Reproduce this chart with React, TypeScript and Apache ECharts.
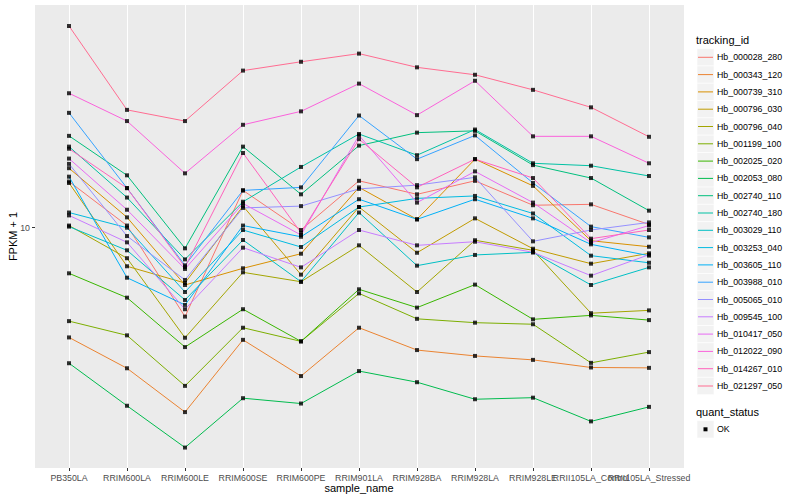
import React, { useEffect, useRef } from "react";
import * as echarts from "echarts";

const categories = [
  "PB350LA", "RRIM600LA", "RRIM600LE", "RRIM600SE", "RRIM600PE", "RRIM901LA",
  "RRIM928BA", "RRIM928LA", "RRIM928LE", "RRII105LA_Control", "RRII105LA_Stressed",
];

const trackingIds = [
  "Hb_000028_280", "Hb_000343_120", "Hb_000739_310", "Hb_000796_030", "Hb_000796_040",
  "Hb_001199_100", "Hb_002025_020", "Hb_002053_080", "Hb_002740_110", "Hb_002740_180",
  "Hb_003029_110", "Hb_003253_040", "Hb_003605_110", "Hb_003988_010", "Hb_005065_010",
  "Hb_009545_100", "Hb_010417_050", "Hb_012022_090", "Hb_014267_010", "Hb_021297_050",
];

const seriesColors = [
  "#F8766D", "#EA8331", "#D89000", "#C09B00", "#A3A500", "#7CAE00", "#39B600", "#00BB4E",
  "#00BF7D", "#00C1A3", "#00BFC4", "#00BAE0", "#00B0F6", "#35A2FF", "#9590FF", "#C77CFF",
  "#E76BF3", "#FA62DB", "#FF62BC", "#FF6C91",
];

// FPKM + 1 values, one per sample, in category order
const hb000028_280 = [15.3, 10.2, 4.41, 14.1, 9.79, 15.4, 13.6, 15.4, 12.3, 12.4, 10.3];
const hb000343_120 = [3.64, 2.74, 1.83, 3.56, 2.55, 3.98, 3.24, 3.07, 2.96, 2.76, 2.75];
const hb000739_310 = [17.3, 11.0, 5.90, 6.88, 7.87, 14.5, 10.8, 18.8, 14.7, 8.87, 8.39];
const hb000796_030 = [15.1, 7.01, 6.01, 12.2, 6.49, 12.1, 7.94, 10.9, 8.24, 7.18, 7.90];
const hb000796_040 = [10.2, 7.55, 3.63, 6.63, 6.08, 8.50, 5.53, 8.91, 8.12, 4.55, 4.67];
const hb001199_100 = [4.23, 3.71, 2.33, 3.98, 3.51, 5.46, 4.32, 4.17, 4.11, 2.88, 3.18];
const hb002025_020 = [6.57, 5.25, 3.33, 4.72, 3.51, 5.67, 4.79, 5.92, 4.30, 4.46, 4.27];
const hb002053_080 = [2.87, 1.94, 1.32, 2.08, 1.98, 2.67, 2.41, 2.06, 2.09, 1.68, 1.92];
const hb002740_110 = [23.3, 16.2, 8.27, 21.1, 13.6, 21.3, 24.0, 24.4, 17.8, 15.8, 11.7];
const hb002740_180 = [21.1, 13.2, 7.47, 12.7, 17.5, 23.7, 19.5, 24.7, 18.1, 17.7, 16.1];
const hb003029_110 = [10.1, 8.12, 5.14, 8.93, 6.08, 11.5, 7.05, 7.78, 7.97, 5.90, 6.94];
const hb003253_040 = [11.5, 10.0, 5.53, 9.79, 8.37, 12.1, 13.1, 13.4, 11.4, 7.73, 7.24];
const hb003605_110 = [16.0, 6.31, 4.91, 10.2, 9.20, 13.0, 10.8, 13.0, 10.9, 8.58, 7.73];
const hb003988_010 = [28.8, 14.4, 7.07, 14.1, 14.5, 28.1, 18.8, 23.4, 15.1, 10.1, 9.15];
const hb005065_010 = [18.0, 9.26, 6.18, 12.0, 12.2, 14.3, 14.8, 15.9, 8.82, 9.79, 10.5];
const hb009545_100 = [11.2, 8.74, 4.72, 8.32, 6.94, 9.79, 8.50, 8.79, 7.97, 6.43, 7.80];
const hb010417_050 = [18.9, 11.8, 6.84, 12.5, 9.35, 23.4, 12.6, 16.8, 12.6, 8.71, 10.2];
const hb012022_090 = [34.5, 26.7, 16.5, 25.8, 29.2, 37.7, 28.2, 38.7, 23.2, 23.2, 18.1];
const hb014267_010 = [20.7, 14.4, 6.96, 19.9, 9.55, 22.6, 14.5, 18.8, 15.8, 9.04, 9.79];
const hb021297_050 = [64.1, 29.6, 26.7, 42.5, 46.1, 49.7, 43.8, 40.9, 35.6, 30.3, 23.1];

const seriesValues = [
  hb000028_280, hb000343_120, hb000739_310, hb000796_030, hb000796_040,
  hb001199_100, hb002025_020, hb002053_080, hb002740_110, hb002740_180,
  hb003029_110, hb003253_040, hb003605_110, hb003988_010, hb005065_010,
  hb009545_100, hb010417_050, hb012022_090, hb014267_010, hb021297_050,
];

const yTickValues = [10];
const yMin = 1.0935;
const yMax = 77.77;
const quantStatus = ["OK"];

const FONT = "'Liberation Sans', Arial, Helvetica, sans-serif";

export default function App() {
  const ref = useRef<HTMLDivElement>(null);

  useEffect(() => {
    if (!ref.current) return;
    const chart = echarts.init(ref.current, null, { renderer: "svg" });

    const lineSeries: any[] = trackingIds.map((id, i) => ({
      name: id,
      type: "line",
      xAxisIndex: 1,
      yAxisIndex: 1,
      data: seriesValues[i],
      symbol: "none",
      lineStyle: { color: seriesColors[i], width: 1 },
      itemStyle: { color: seriesColors[i] },
      z: 2,
      silent: true,
    }));

    const points: number[][] = [];
    seriesValues.forEach((vals) => vals.forEach((v, j) => points.push([j, v])));
    const pointSeries = {
      name: quantStatus[0],
      type: "scatter",
      xAxisIndex: 1,
      yAxisIndex: 1,
      data: points,
      symbol: "rect",
      symbolSize: 4,
      itemStyle: { color: "#000000" },
      z: 5,
      silent: true,
    };

    // legend drawn as graphic elements (ggplot style keys)
    const lx = 697;
    const keySize = 17.3;
    const firstKeyCenter = 57.3;
    const graphics: any[] = [];
    graphics.push({
      type: "text",
      x: 696,
      y: 40,
      style: { text: "tracking_id", fill: "#000", fontSize: 11, fontFamily: FONT, verticalAlign: "middle", align: "left" },
    });
    trackingIds.forEach((id, i) => {
      const cy = firstKeyCenter + i * keySize;
      graphics.push({
        type: "rect",
        shape: { x: lx, y: cy - keySize / 2, width: 17, height: keySize },
        style: { fill: "#F2F2F2", stroke: "#FFFFFF", lineWidth: 0.6 },
      });
      graphics.push({
        type: "line",
        shape: { x1: lx + 1, y1: cy, x2: lx + 16, y2: cy },
        style: { stroke: seriesColors[i], lineWidth: 1 },
      });
      graphics.push({
        type: "text",
        x: 717,
        y: cy,
        style: { text: id, fill: "#000", fontSize: 8.8, fontFamily: FONT, verticalAlign: "middle", align: "left" },
      });
    });
    graphics.push({
      type: "text",
      x: 696,
      y: 412,
      style: { text: "quant_status", fill: "#000", fontSize: 11, fontFamily: FONT, verticalAlign: "middle", align: "left" },
    });
    const okCy = 429.3;
    graphics.push({
      type: "rect",
      shape: { x: lx, y: okCy - keySize / 2, width: 17, height: keySize },
      style: { fill: "#F2F2F2", stroke: "#FFFFFF", lineWidth: 0.6 },
    });
    graphics.push({
      type: "rect",
      shape: { x: lx + 6.5, y: okCy - 2, width: 4, height: 4 },
      style: { fill: "#000" },
    });
    graphics.push({
      type: "text",
      x: 717,
      y: okCy,
      style: { text: quantStatus[0], fill: "#000", fontSize: 8.8, fontFamily: FONT, verticalAlign: "middle", align: "left" },
    });

    const option: any = {
      animation: false,
      backgroundColor: "#FFFFFF",
      textStyle: { fontFamily: FONT },
      grid: [
        { left: 35, right: 116, top: 5, bottom: 32, show: true, backgroundColor: "#EBEBEB", borderWidth: 0, containLabel: false, outerBoundsMode: "none" },
        { left: 69, right: 151, top: 5, bottom: 32, show: false, containLabel: false, outerBoundsMode: "none" },
      ],
      xAxis: [
        { type: "value", gridIndex: 0, min: 0, max: 1, show: false },
        {
          type: "category",
          gridIndex: 1,
          data: categories,
          boundaryGap: false,
          axisLine: { show: false },
          axisTick: { show: true, length: 3, lineStyle: { color: "#333333", width: 1 } },
          axisLabel: { show: true, interval: 0, margin: 5, color: "#4D4D4D", fontSize: 8.8, fontFamily: FONT },
          splitLine: { show: true, interval: 0, lineStyle: { color: "#FFFFFF", width: 1 } },
          name: "sample_name",
          nameLocation: "middle",
          nameGap: 14.5,
          nameMoveOverlap: false,
          nameTextStyle: { color: "#000", fontSize: 11, fontFamily: FONT },
        },
      ],
      yAxis: [
        {
          type: "log",
          logBase: 10,
          gridIndex: 0,
          min: yMin,
          max: yMax,
          axisLine: { show: false },
          axisTick: { show: true, length: 3, customValues: yTickValues, lineStyle: { color: "#333333", width: 1 } },
          axisLabel: {
            show: true,
            customValues: yTickValues,
            margin: 5,
            color: "#4D4D4D",
            fontSize: 8.8,
            fontFamily: FONT,
            showMinLabel: false,
            showMaxLabel: false,
          },
          splitLine: { show: true, showMinLine: false, showMaxLine: false, lineStyle: { color: "#FFFFFF", width: 1 } },
          name: "FPKM + 1",
          nameLocation: "middle",
          nameGap: 17,
          nameMoveOverlap: false,
          nameTextStyle: { color: "#000", fontSize: 11, fontFamily: FONT },
        },
        {
          type: "log",
          logBase: 10,
          gridIndex: 1,
          min: yMin,
          max: yMax,
          show: false,
          splitLine: { show: false },
        },
      ],
      series: [...lineSeries, pointSeries],
      graphic: graphics,
    };

    chart.setOption(option);
    return () => chart.dispose();
  }, []);

  return (
    <div
      ref={ref}
      style={{ position: "absolute", left: 0, top: 0, width: 800, height: 500, background: "#fff" }}
    />
  );
}
